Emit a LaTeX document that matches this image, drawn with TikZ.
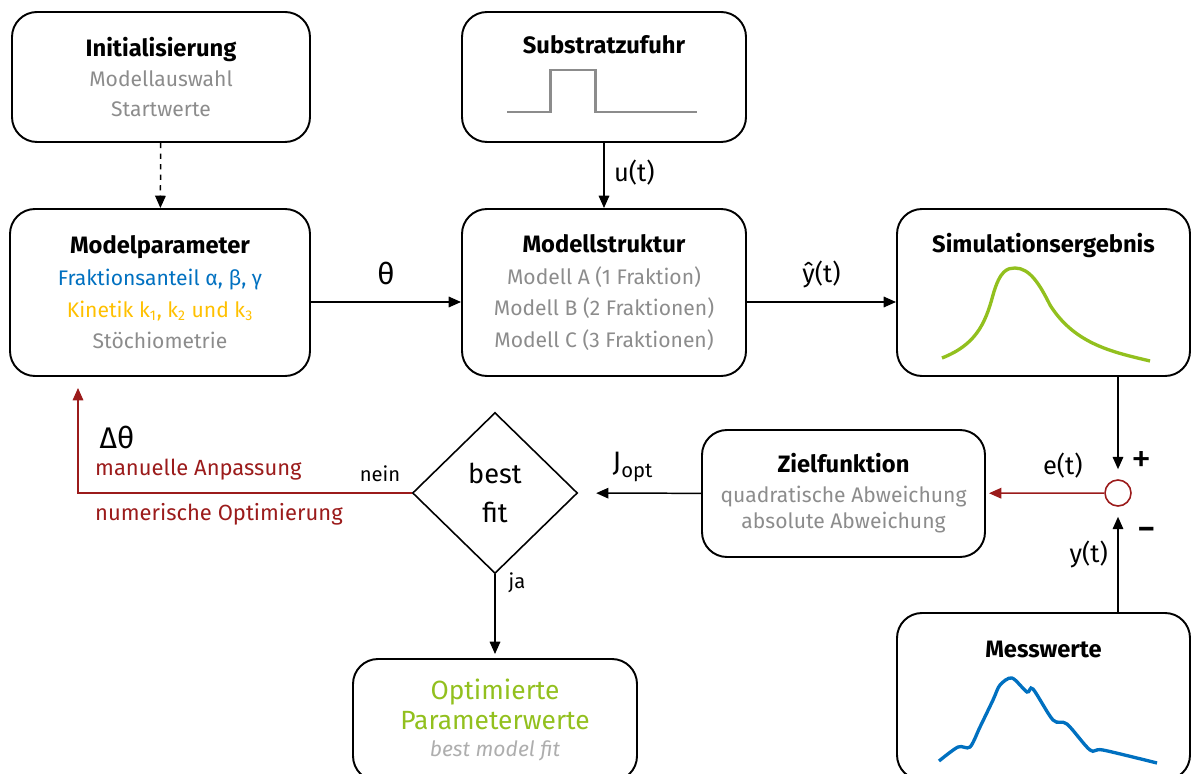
\documentclass[tikz,border=0pt]{standalone}
\usepackage{fontspec}
\setmainfont{Fira Sans}
\usetikzlibrary{shapes.geometric,arrows.meta,positioning}

\definecolor{fblue}{RGB}{0,112,192}
\definecolor{forange}{RGB}{255,192,0}
\definecolor{fgreen}{RGB}{146,192,30}
\definecolor{fgrey}{RGB}{140,140,140}
\definecolor{fred}{RGB}{155,27,27}

\newcommand{\boxttl}[1]{{\fontsize{13.5}{16}\selectfont\bfseries #1}}

\tikzset{
    box/.style={draw, line width=1.1pt, rounded corners=0.5cm, align=center,
        font=\fontsize{12}{18}\selectfont},
    ttl/.style={font=\fontsize{13.5}{16}\selectfont\bfseries},
    conn/.style={line width=0.85pt, -{Triangle[length=7pt,width=6pt]}},
    lbl/.style={font=\fontsize{14.5}{17}\selectfont},
    small/.style={font=\fontsize{11.5}{13}\selectfont},
    redtxt/.style={fred, anchor=west, font=\fontsize{12.5}{15}\selectfont},
}

\begin{document}
\begin{tikzpicture}
    \useasboundingbox (0,0) rectangle (23.84,-15.48);

    % upper row
    \node[box, minimum width=5.96cm, minimum height=2.6cm] (init) at (3.22,-1.54)
        {\boxttl{Initialisierung}\\[-1pt]
         \textcolor{fgrey}{Modellauswahl}\\[-1pt]
         \textcolor{fgrey}{Startwerte}};
    \node[box, minimum width=5.68cm, minimum height=2.6cm] (sub) at (12.08,-1.54) {};
    \node[ttl] (subttl) at ([yshift=-0.68cm]sub.north) {Substratzufuhr};
    \draw[fgrey, line width=1.7pt] (10.14,-2.24) -- (11.0,-2.24) -- (11.0,-1.4) -- (11.9,-1.4) -- (11.9,-2.24) -- (13.94,-2.24);

    % middle row
    \node[box, minimum width=6cm, minimum height=3.34cm] (par) at (3.2,-5.85)
        {\boxttl{Modelparameter}\\
         \textcolor{fblue}{Fraktionsanteil α, β, γ}\\
         \textcolor{forange}{Kinetik k\textsubscript{1}, k\textsubscript{2} und k\textsubscript{3}}\\
         \textcolor{fgrey}{Stöchiometrie}};
    \node[box, minimum width=5.68cm, minimum height=3.34cm] (str) at (12.08,-5.85)
        {\boxttl{Modellstruktur}\\
         \textcolor{fgrey}{Modell A (1 Fraktion)}\\
         \textcolor{fgrey}{Modell B (2 Fraktionen)}\\
         \textcolor{fgrey}{Modell C (3 Fraktionen)}};
    \node[box, minimum width=5.86cm, minimum height=3.34cm] (sim) at (20.87,-5.85) {};
    \node[ttl] (simttl) at ([yshift=-0.74cm]sim.north) {Simulationsergebnis};
    \draw[fgreen, line width=1.9pt] (18.84,-7.16) .. controls (19.5,-6.9) and (19.7,-6.5) .. (19.86,-5.9)
        .. controls (20.0,-5.4) and (20.15,-5.36) .. (20.3,-5.36)
        .. controls (20.6,-5.36) and (20.8,-5.7) .. (21.0,-6.1)
        .. controls (21.5,-6.9) and (22.3,-7.05) .. (23.0,-7.22);

    % lower row
    \node[draw, diamond, line width=0.9pt, minimum width=3.3cm, minimum height=3.22cm, inner sep=0pt,
        align=center, font=\fontsize{15.5}{22.5}\selectfont] (fit) at (9.9,-9.86) {best\\fit};
    \node[box, minimum width=5.66cm, minimum height=2.54cm] (ziel) at (16.87,-9.87)
        {\boxttl{Zielfunktion}\\[-1pt]
         \textcolor{fgrey}{quadratische Abweichung}\\[-3pt]
         \textcolor{fgrey}{absolute Abweichung}};
    \node[draw=fred, circle, line width=0.9pt, minimum size=0.52cm, inner sep=0pt] (sum) at (22.36,-9.86) {};
    \node[box, minimum width=5.68cm, minimum height=2.44cm] (opt) at (9.9,-14.4)
        {\textcolor{fgreen}{\fontsize{15}{17}\selectfont Optimierte}\\[-1pt]
         \textcolor{fgreen}{\fontsize{15}{17}\selectfont Parameterwerte}\\[-3pt]
         \textcolor{fgrey!70}{\itshape best model fit}};
    \node[box, minimum width=5.86cm, minimum height=3.34cm] (mess) at (20.87,-13.93) {};
    \node[ttl] (messttl) at ([yshift=-0.74cm]mess.north) {Messwerte};
    \draw[fblue, line width=1.9pt] plot[smooth, tension=0.5] coordinates {(18.78,-15.22) (19.16,-14.94) (19.4,-14.94)
        (19.6,-14.54) (19.86,-14.0) (20.0,-13.7) (20.24,-13.56) (20.54,-13.84) (20.66,-13.78) (21.06,-14.4)
        (21.34,-14.48) (21.8,-15.0) (22.06,-15.0) (23.14,-15.26)};

    % connectors
    \draw[conn, dashed] (init) -- (par);
    \draw[conn] (sub) -- (str) node[lbl, pos=0.45, right=2pt] {u(t)};
    \draw[conn] ([yshift=-0.19cm]par.east) -- ([yshift=-0.19cm]str.west) node[font=\fontsize{17}{20}\selectfont, midway, above=6pt] {θ};
    \draw[conn] ([yshift=-0.19cm]str.east) -- ([yshift=-0.19cm]sim.west) node[lbl, midway, above=4pt] {ŷ(t)};
    \draw[conn, shorten >=0.2cm] (sim.south -| sum) -- (sum.north)
        node[font=\fontsize{23}{26}\selectfont, pos=0.83, right=4pt] {+};
    \draw[conn, shorten >=0.2cm] (mess.north -| sum) -- (sum.south) node[lbl, pos=0.55, left=2pt] {y(t)}
        node[font=\fontsize{17}{20}\selectfont\bfseries, pos=0.75, right=8pt] {–};
    \draw[conn, fred, shorten >=0.06cm] (sum) -- (ziel) node[lbl, black, pos=0.35, above=5pt] {e(t)};
    \draw[conn, shorten >=0.36cm] (ziel) -- (fit) node[midway, above=3pt, xshift=-4pt] {\fontsize{16}{18}\selectfont J\fontsize{11.5}{13}\selectfont\raisebox{-3pt}{opt}};
    \draw[conn, shorten >=0.08cm] (fit) -- (opt) node[small, pos=0.1, right=4pt] {ja};
    \coordinate (back) at (1.56,-7.76);
    \draw[conn, fred] (fit.west) -| (back);
    \node[small, anchor=south east] (nein) at ([xshift=-3pt,yshift=3pt]fit.west) {nein};
    \node[font=\fontsize{17}{20}\selectfont] (dtheta) at (2.34,-8.74) {Δθ};
    \node[redtxt] (manu) at (1.78,-9.4) {manuelle Anpassung};
    \node[redtxt] (nume) at (1.78,-10.28) {numerische Optimierung};
\end{tikzpicture}
\end{document}
